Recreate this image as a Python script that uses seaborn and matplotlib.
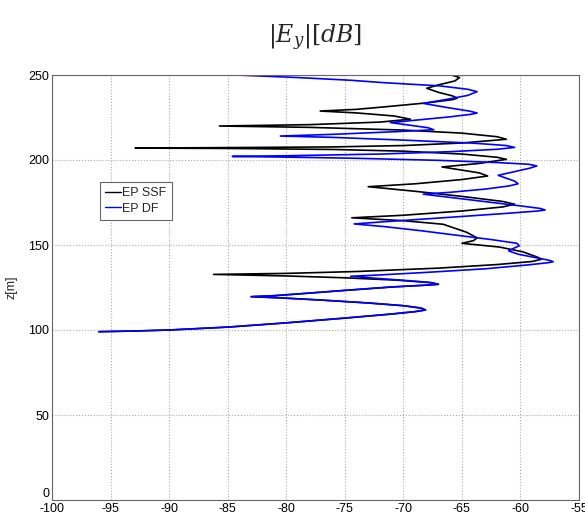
import numpy as np
import pandas as pd
import matplotlib
matplotlib.use('Agg')
import matplotlib.pyplot as plt
import seaborn as sns

# field profile |Ey| in dB vs height z
df_x = [-96.0, -93.0, -90.0, -85.0, -80.0, -75.0, -71.0, -69.0, -68.1, -68.5, -70.0, -73.0, -77.0, -80.5,
        -83.0, -81.0, -79.0, -75.0, -71.0, -68.0, -67.0, -67.6, -69.5, -72.5, -74.5, -72.0, -68.0, -63.0,
        -59.5, -57.6, -57.2, -57.6, -58.8, -60.2, -61.0, -60.6, -60.1, -60.3, -62.5, -65.5, -68.5, -71.6,
        -74.2, -71.6, -66.0, -61.0, -58.5, -57.9, -58.3, -60.0, -63.0, -66.0, -68.3, -66.0, -63.0, -61.0,
        -60.2, -60.5, -61.3, -61.9, -60.6, -59.2, -58.6, -59.3, -62.0, -67.0, -74.0, -80.0, -84.6, -80.0,
        -72.0, -66.0, -62.0, -60.5, -61.2, -64.0, -70.0, -76.0, -80.5, -76.0, -70.5, -67.4, -67.9, -69.8,
        -71.1, -69.0, -66.0, -64.2, -63.7, -64.3, -66.2, -68.3, -66.5, -64.5, -63.7, -64.5, -66.9, -71.7,
        -74.5, -79.0, -84.3]
df_z = [99.0, 99.4, 100.0, 101.7, 104.2, 107.0, 109.4, 110.8, 111.8, 112.9, 114.3, 115.9, 117.6, 118.9,
        119.6, 120.2, 121.2, 123.3, 125.3, 126.4, 126.9, 127.9, 129.0, 130.5, 131.6, 132.4, 133.9, 136.0,
        138.2, 139.6, 140.2, 141.1, 142.7, 144.6, 146.5, 148.0, 149.5, 151.0, 153.2, 155.8, 158.4, 160.8,
        162.4, 163.7, 166.3, 168.7, 170.0, 170.6, 171.5, 173.0, 175.5, 178.0, 179.9, 181.0, 182.9, 184.7,
        186.0, 187.6, 189.5, 191.0, 193.0, 195.2, 196.5, 197.5, 198.5, 199.8, 201.0, 201.7, 202.1, 202.5,
        203.5, 204.9, 206.3, 207.4, 208.5, 209.9, 211.7, 213.3, 214.1, 215.1, 216.7, 217.8, 219.0, 220.8,
        222.0, 223.4, 225.4, 226.9, 227.6, 228.7, 230.8, 233.3, 235.4, 238.0, 240.2, 241.6, 243.6, 245.5,
        246.9, 248.5, 250.0]

ssf_x = [-96.0, -93.0, -90.0, -85.0, -80.0, -75.0, -71.0, -69.0, -68.1, -68.5, -70.0, -73.0, -77.0, -80.5,
         -83.0, -81.0, -79.0, -75.0, -71.0, -68.0, -67.0, -67.8, -70.5, -75.0, -80.0, -86.2, -80.0, -74.0,
         -67.0, -62.0, -59.0, -58.2, -58.6, -59.8, -61.8, -65.0, -64.0, -63.7, -64.6, -66.6, -70.0, -74.4,
         -70.0, -65.0, -61.5, -60.5, -61.5, -65.0, -69.0, -73.0, -69.0, -65.0, -62.8, -63.5, -66.7, -63.5,
         -61.2, -62.0, -65.0, -70.0, -76.0, -85.0, -92.9, -85.0, -76.0, -70.0, -65.0, -61.2, -62.0, -65.0,
         -70.0, -78.0, -85.7, -78.0, -72.0, -69.4, -70.8, -74.0, -77.1, -74.0, -71.7, -68.0, -65.8, -65.4,
         -65.8, -67.0, -68.0, -67.0, -65.6, -65.2, -65.9]
ssf_z = [99.0, 99.4, 100.0, 101.7, 104.2, 107.0, 109.4, 110.8, 111.8, 112.9, 114.3, 115.9, 117.6, 118.9,
         119.6, 120.2, 121.2, 123.3, 125.3, 126.4, 126.9, 127.9, 129.3, 130.7, 131.8, 132.7, 133.3, 134.4,
         136.4, 138.5, 140.3, 141.6, 143.0, 146.0, 148.8, 151.0, 152.6, 154.2, 157.5, 162.2, 164.3, 166.0,
         167.5, 170.0, 172.4, 174.0, 175.6, 178.6, 181.6, 184.3, 186.0, 188.5, 190.6, 192.4, 195.9, 198.0,
         200.4, 201.6, 203.5, 205.2, 206.2, 206.8, 207.0, 207.3, 207.7, 208.5, 210.0, 212.2, 213.7, 215.8,
         217.6, 219.2, 220.0, 220.8, 222.3, 224.0, 225.9, 227.7, 228.8, 229.8, 231.2, 233.6, 235.5, 236.4,
         237.7, 239.8, 242.2, 244.2, 246.5, 248.5, 250.0]

series = ['EP SSF', 'EP DF']
colors = ['black', '#0000ff']
x_ticks = [-100, -95, -90, -85, -80, -75, -70, -65, -60, -55]
y_ticks = [0, 50, 100, 150, 200, 250]

data = pd.concat([
    pd.DataFrame({'Ey': ssf_x, 'z': ssf_z, 'series': series[0]}),
    pd.DataFrame({'Ey': df_x, 'z': df_z, 'series': series[1]}),
], ignore_index=True)

sns.set_style('white')
plt.rcParams['font.family'] = ['Liberation Sans', 'DejaVu Sans']
plt.rcParams['mathtext.fontset'] = 'dejavuserif'
plt.rcParams['axes.unicode_minus'] = False

fig = plt.figure(figsize=(5.85, 5.24), dpi=100)
ax = fig.add_axes([52 / 585, 24 / 524, 527 / 585, 425 / 524])

sns.lineplot(data=data, x='Ey', y='z', hue='series', hue_order=series, palette=colors,
             sort=False, estimator=None, units='series', linewidth=1.2, ax=ax, legend=False)

ax.set_xlim(-100, -55)
ax.set_ylim(0, 250)
ax.set_xticks(x_ticks)
ax.set_yticks(y_ticks)
ax.tick_params(direction='in', length=4, pad=2, labelsize=9, colors='#333333', labelcolor='black')
ax.grid(True, linestyle=':', color='#aaaaaa', linewidth=0.8)
for s in ax.spines.values():
    s.set_color('#666666')
    s.set_linewidth(0.8)
ax.set_xlabel('')
ax.set_ylabel('z[m]', fontsize=9)
ax.yaxis.set_label_coords(-0.066, 0.5)
# matlab puts the y=0 label a bit higher, off the x labels
ax.get_yticklabels()[0].set_va('bottom')

handles = [plt.Line2D([], [], color=c, linewidth=1.0) for c in colors]
leg = ax.legend(handles, series, loc='upper left', bbox_to_anchor=(0.091, 0.748), borderaxespad=0,
                fontsize=9, handlelength=1.3, handletextpad=0.1, labelspacing=0.3,
                fancybox=False, framealpha=1, borderpad=0.4)
leg.get_frame().set_edgecolor('#666666')
leg.get_frame().set_linewidth(0.8)

fig.text(315 / 585, 1 - 38 / 524, r'$|E_y|[dB]$', ha='center', va='center', fontsize=17)

fig.savefig('out.png', dpi=100)
